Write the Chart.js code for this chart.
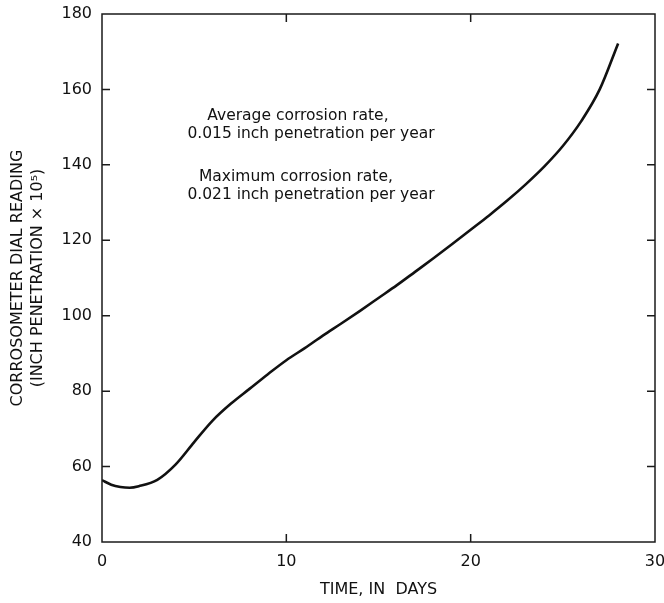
<!DOCTYPE html>
<html lang="en">
  <head>
    <meta charset="UTF-8" />
    <title>Corrosometer reading</title>
    <script src="https://cdn.jsdelivr.net/npm/chart.js"></script>
    <style>
      body {
        margin: 0;
        background: #ffffff;
      }
      #wrap {
        width: 664px;
        height: 603px;
      }
    </style>
  </head>
  <body>
    <div id="wrap"><canvas id="myChart"></canvas></div>
    <script>
      // time in days / dial reading (inch penetration x 10^5)
      const days = [0, 0.5, 1, 1.5, 2, 3, 4, 5, 6, 7, 8, 9, 10, 11, 12, 13, 14, 15, 16, 17, 18, 19, 20, 21, 22, 23, 24, 25, 26, 27, 28];
      const readings = [56.4, 55.2, 54.6, 54.4, 54.8, 56.5, 60.6, 66.5, 72.2, 76.7, 80.6, 84.5, 88.2, 91.4, 94.8, 98.0, 101.3, 104.7, 108.1, 111.7, 115.3, 119.0, 122.8, 126.6, 130.6, 134.9, 139.6, 145.0, 151.6, 160.0, 172.2];
      const xTicks = [0, 10, 20, 30];
      const yTicks = [40, 60, 80, 100, 120, 140, 160, 180];
      const notes = [
        "Average corrosion rate,",
        "0.015 inch penetration per year",
        "Maximum corrosion rate,",
        "0.021 inch penetration per year",
      ];

      const FONT = "'DejaVu Sans', sans-serif";

      // box + inward ticks + the two notes
      const framePlugin = {
        id: "frame",
        afterDraw(chart) {
          const { ctx, chartArea: a } = chart;
          const sx = chart.scales.x;
          const sy = chart.scales.y;
          ctx.save();
          ctx.strokeStyle = "#1a1a1a";
          ctx.lineWidth = 1.5;
          ctx.strokeRect(a.left, a.top, a.right - a.left, a.bottom - a.top);
          const len = 8;
          ctx.beginPath();
          yTicks.slice(1, -1).forEach((v) => {
            const py = sy.getPixelForValue(v);
            ctx.moveTo(a.left, py);
            ctx.lineTo(a.left + len, py);
            ctx.moveTo(a.right, py);
            ctx.lineTo(a.right - len, py);
          });
          xTicks.slice(1, -1).forEach((v) => {
            const px = sx.getPixelForValue(v);
            ctx.moveTo(px, a.bottom);
            ctx.lineTo(px, a.bottom - len);
            ctx.moveTo(px, a.top);
            ctx.lineTo(px, a.top + len);
          });
          ctx.stroke();

          // note positions in data units (day, reading)
          const spots = [
            [10.63, 153.0],
            [11.34, 148.2],
            [10.52, 136.8],
            [11.34, 132.0],
          ];
          ctx.fillStyle = "#111";
          ctx.font = "15.5px " + FONT;
          ctx.textAlign = "center";
          ctx.textBaseline = "middle";
          notes.forEach((t, i) => {
            ctx.fillText(
              t,
              sx.getPixelForValue(spots[i][0]),
              sy.getPixelForValue(spots[i][1])
            );
          });
          ctx.restore();
        },
      };

      const config = {
        type: "line",
        data: {
          datasets: [
            {
              data: days.map((d, i) => ({ x: d, y: readings[i] })),
              borderColor: "#111111",
              borderWidth: 2.6,
              pointRadius: 0,
              fill: false,
              tension: 0.4,
              cubicInterpolationMode: "monotone",
            },
          ],
        },
        options: {
          responsive: true,
          maintainAspectRatio: false,
          animation: false,
          layout: { padding: { top: 14, right: 9, left: 0, bottom: 0 } },
          plugins: {
            legend: { display: false },
            tooltip: { enabled: false },
          },
          scales: {
            x: {
              type: "linear",
              min: 0,
              max: 30,
              afterBuildTicks: (s) => {
                s.ticks = xTicks.map((v) => ({ value: v }));
              },
              afterFit: (s) => {
                s.height = 61;
                s.paddingLeft = 0;
                s.paddingRight = 0;
              },
              grid: { display: false, drawTicks: false },
              border: { display: false },
              ticks: {
                color: "#111",
                padding: 10,
                maxRotation: 0,
                font: { family: FONT, size: 16 },
              },
              title: {
                display: true,
                text: "TIME, IN  DAYS",
                color: "#111",
                font: { family: FONT, size: 16 },
                padding: { top: 4, bottom: 4 },
              },
            },
            y: {
              min: 40,
              max: 180,
              afterBuildTicks: (s) => {
                s.ticks = yTicks.map((v) => ({ value: v }));
              },
              afterFit: (s) => {
                s.width = 102;
                s.paddingTop = 0;
                s.paddingBottom = 0;
              },
              grid: { display: false, drawTicks: false },
              border: { display: false },
              ticks: {
                color: "#111",
                padding: 10,
                font: { family: FONT, size: 16 },
              },
              title: {
                display: true,
                text: ["CORROSOMETER DIAL READING", "(INCH PENETRATION × 10⁵)"],
                color: "#111",
                font: { family: FONT, size: 16, lineHeight: 1.25 },
                padding: { top: 8, bottom: 0 },
              },
            },
          },
        },
        plugins: [framePlugin],
      };

      const myChart = new Chart(document.getElementById("myChart"), config);
    </script>
  </body>
</html>
